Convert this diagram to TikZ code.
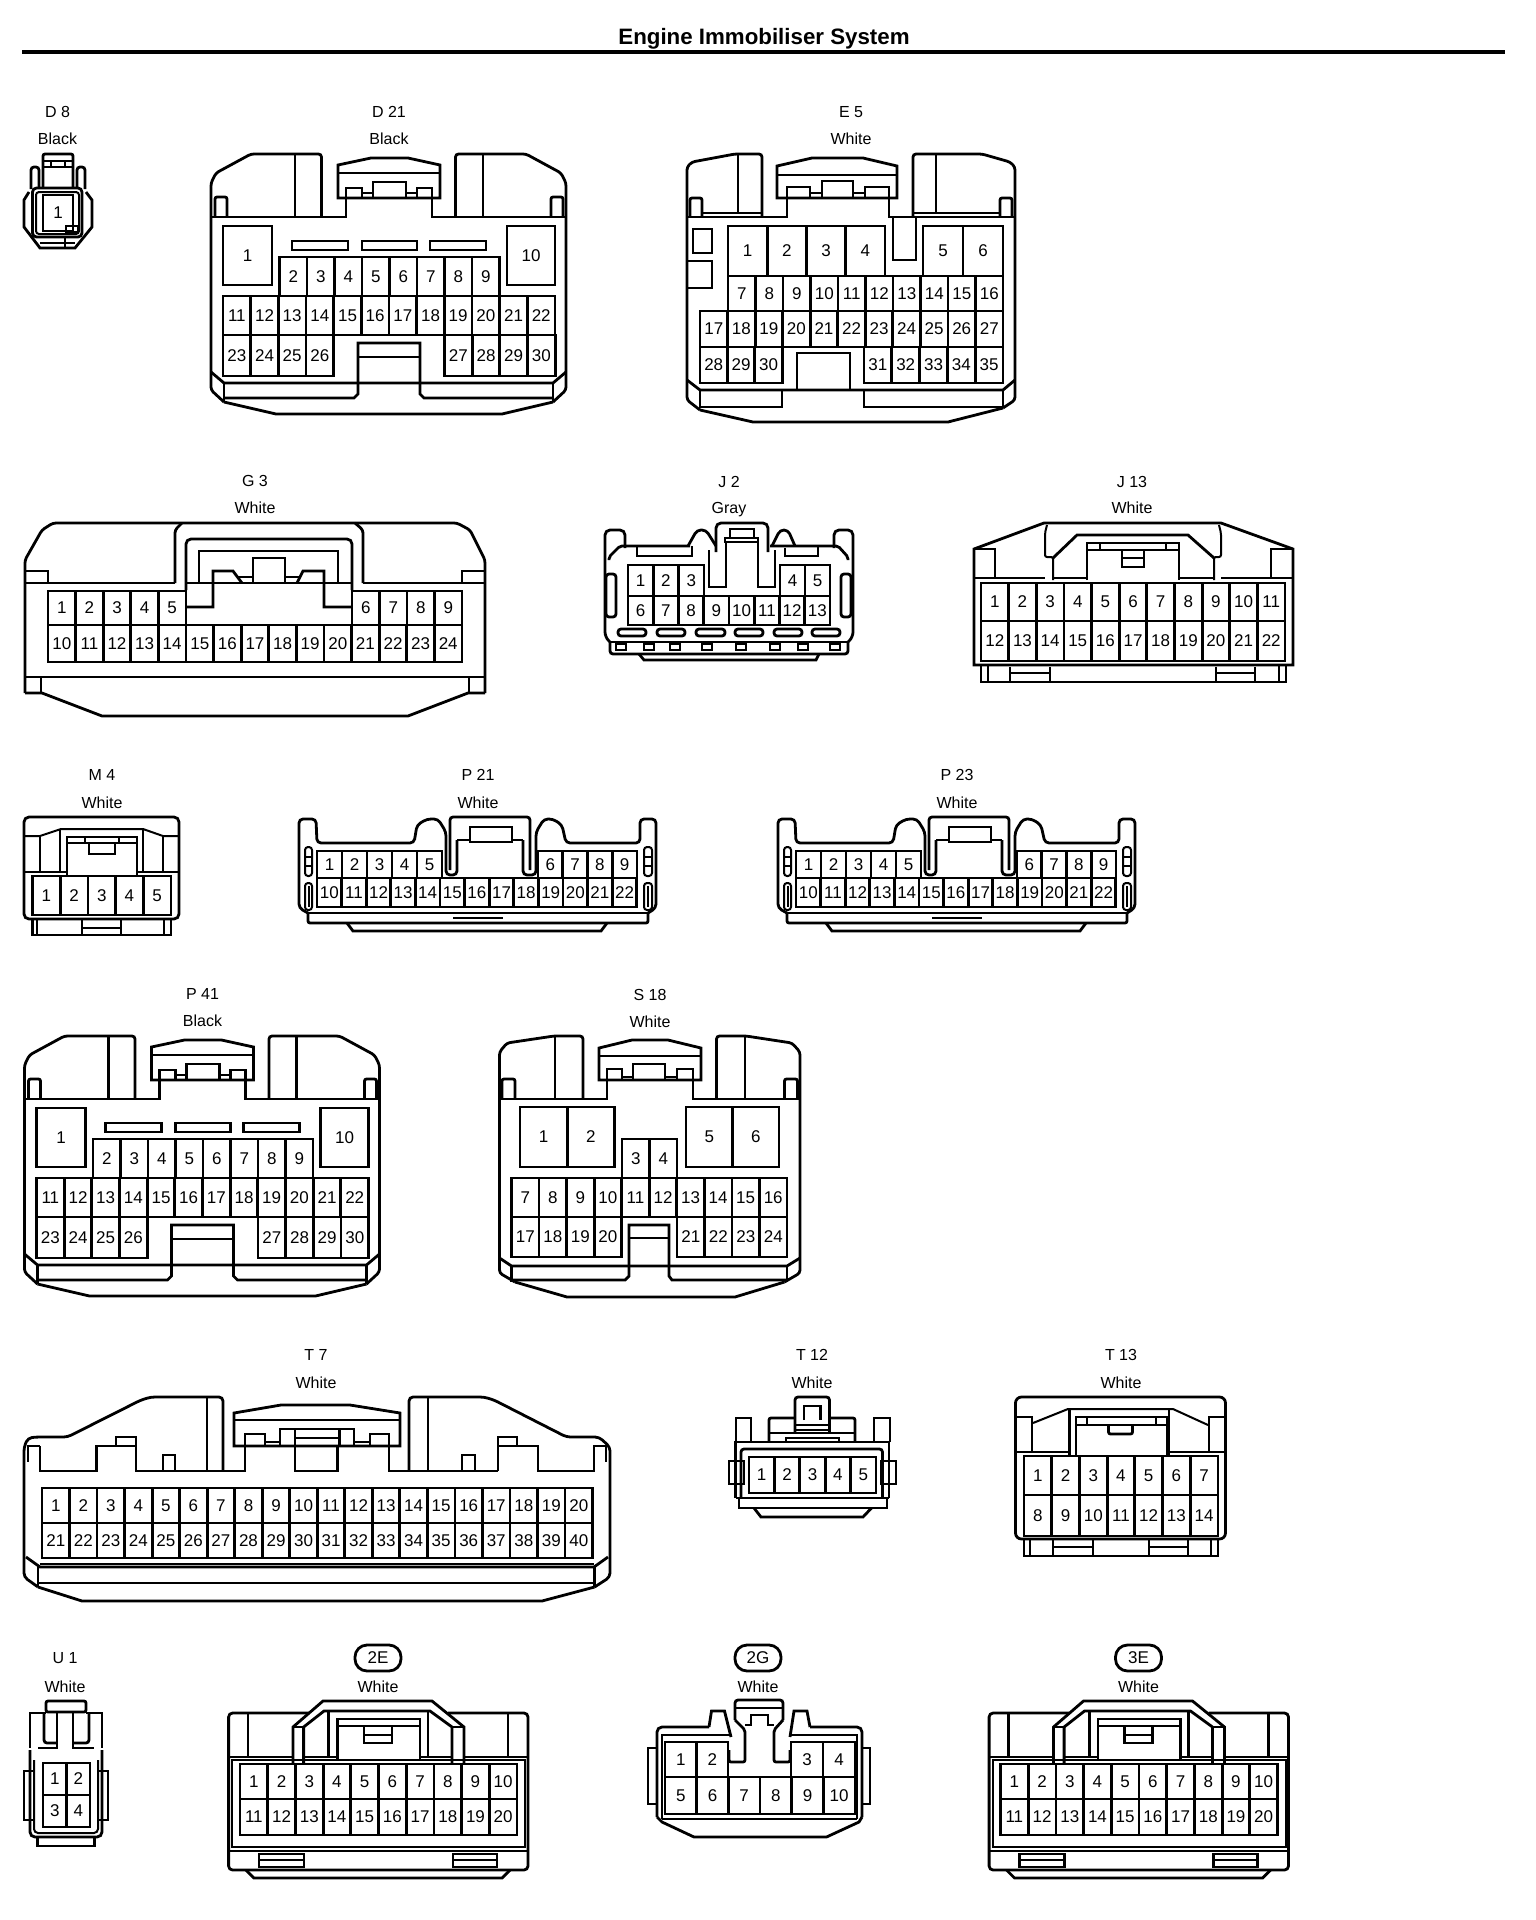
\documentclass[tikz,border=0pt]{standalone}
\usepackage{fontspec}
\setmainfont{Liberation Sans}
\tikzset{
  pincell/.style={draw,inner sep=0pt,outer sep=0pt,font=\fontsize{17}{17}\selectfont},
  conlabel/.style={inner sep=0pt,text height=11.5pt,text depth=0pt,font=\fontsize{16}{16}\selectfont},
  conpill/.style={draw,rounded corners=12pt,inner sep=0pt,minimum width=46pt,minimum height=26pt,font=\fontsize{17}{17}\selectfont},
  fine/.style={line width=2pt}
}
% name, left, top, cell width, cell height, first pin, last pin
\newcommand{\pinrow}[7]{
  \foreach \n [evaluate=\n as \cx using {#2+(\n-#6+0.5)*#4}] in {#6,...,#7} {
    \node[pincell,minimum width=#4pt,minimum height=#5pt] (#1-\n) at (\cx,#3+#5/2) {\n};
  }
}
\begin{document}
\begin{tikzpicture}[x=1pt,y=-1pt,line width=2.8pt]
\useasboundingbox (0,0) rectangle (1536,1920);

\node[inner sep=0pt,font=\fontsize{22.3}{22.3}\selectfont\bfseries] (title) at (764,39) {Engine Immobiliser System};
\draw[line width=4pt] (22,52) -- (1505,52);

% D 8
\node[conlabel] (d8-id) at (57.5,112) {D 8};
\node[conlabel] (d8-col) at (57.5,139) {Black};
\draw[rounded corners=2pt] (43,187) -- (43,154) -- (73,154) -- (73,187);
\draw[fine] (43,161) -- (73,161); \draw[fine] (43,167) -- (73,167);
\draw[fine] (51,161) -- (51,167); \draw[fine] (65,161) -- (65,167);
\draw[rounded corners=3pt] (31,189) -- (31,167) -- (39,167) -- (39,187);
\draw[rounded corners=3pt] (77,187) -- (77,167) -- (85,167) -- (85,189);
\draw (29,192) -- (24,200) -- (24,227) -- (40,248) -- (75,248) -- (92,227) -- (92,200) -- (86,192);
\draw[rounded corners=4pt] (32.5,188) rectangle (82,237);
\draw[fine,rounded corners=3pt] (36,192) rectangle (79,234);
\pinrow{d8}{43}{195}{30}{36}{1}{1}
\draw (66,232) rectangle (78,226);
\draw (40,243) -- (75,243);
\draw[fine] (65,237) -- (65,248);

% D 21 and P 41
\foreach \nm/\dx/\dy/\idt in {d21/0/0/D 21,p41/-186.5/882/P 41} {
\begin{scope}[shift={(\dx,\dy)}]
  \node[conlabel] (\nm-id) at (389,112) {\idt};
  \node[conlabel] (\nm-col) at (389,139) {Black};
  \draw[rounded corners=3pt] (224,402) -- (211,390) -- (211,183) -- (216,173) -- (251,154) -- (321.5,154) -- (321.5,217);
  \draw[rounded corners=3pt] (455.5,217) -- (455.5,154) -- (526,154) -- (561,173) -- (566,183) -- (566,390) -- (553,402);
  \draw (224,402) -- (276,414) -- (502,414) -- (553,402);
  \draw (211,217) -- (346,217) -- (346,198);
  \draw (432,198) -- (432,217) -- (566,217);
  \draw (338,198) -- (338,165) -- (371,158) -- (408,158) -- (440,165) -- (440,198) -- cycle;
  \draw (338,173) -- (440,173);
  \draw (373,198) -- (373,182) -- (406,182) -- (406,198);
  \draw (346,198) -- (346,188) -- (362,188) -- (362,198);
  \draw (417,198) -- (417,188) -- (432,188) -- (432,198);
  \draw (362,193) -- (373,193);
  \draw (406,193) -- (417,193);
  \draw (295,154) -- (295,217);
  \draw (483,154) -- (483,217);
  \draw[rounded corners=2pt] (215,217) -- (215,197) -- (227,197) -- (227,217);
  \draw[rounded corners=2pt] (551,217) -- (551,197) -- (563,197) -- (563,217);
  \draw (292,241) rectangle (348,250);
  \draw (362,241) rectangle (417,250);
  \draw (430,241) rectangle (486,250);
  \pinrow{\nm}{223}{226}{49}{59}{1}{1}
  \pinrow{\nm}{507}{226}{48}{59}{10}{10}
  \pinrow{\nm}{279.5}{257}{27.5}{39}{2}{9}
  \pinrow{\nm}{223}{296}{27.67}{39}{11}{22}
  \pinrow{\nm}{223}{335}{27.67}{41}{23}{26}
  \pinrow{\nm}{444.5}{335}{27.67}{41}{27}{30}
  \draw (211,372) -- (224,383) -- (553,383) -- (566,372);
  \draw (224,383) -- (224,402);
  \draw (553,383) -- (553,402);
  \draw (224,398) -- (354,398) -- (358,394) -- (358,343) -- (420,343) -- (420,394) -- (424,398) -- (553,398);
  \draw (358,357) -- (420,357);
\end{scope}
}

% E 5
\node[conlabel] (e5-id) at (851,112) {E 5};
\node[conlabel] (e5-col) at (851,139) {White};
\draw[rounded corners=3pt] (700,410) -- (687,400) -- (687,167) -- (692,162) -- (735,154) -- (762,154) -- (762,217);
\draw[rounded corners=3pt] (913,217) -- (913,154) -- (982,154) -- (1010,162) -- (1015,167) -- (1015,400) -- (1003,408);
\draw (700,410) -- (753,422) -- (948,422) -- (1003,408);
\draw (687,217) -- (787,217) -- (787,198);
\draw (889,198) -- (889,217) -- (1015,217);
\draw (777,198) -- (777,166) -- (812,158) -- (863,158) -- (897,166) -- (897,198) -- cycle;
\draw (777,175) -- (897,175);
\draw (822,198) -- (822,181) -- (853,181) -- (853,198);
\draw (787,198) -- (787,187) -- (810,187) -- (810,198);
\draw (865,198) -- (865,187) -- (889,187) -- (889,198);
\draw (810,193) -- (822,193);
\draw (853,193) -- (865,193);
\draw (893,217) -- (893,260) -- (916,260) -- (916,217);
\draw (738,154) -- (738,213);
\draw (936,154) -- (936,213);
\draw (702,213) -- (762,213);
\draw (913,213) -- (1000,213);
\draw[rounded corners=2pt] (690,217) -- (690,198) -- (702,198) -- (702,217);
\draw[rounded corners=2pt] (1000,217) -- (1000,198) -- (1012,198) -- (1012,217);
\draw (693,229) rectangle (712,253);
\draw (687,261) -- (712,261) -- (712,288) -- (687,288);
\pinrow{e5}{728}{226}{39.25}{50}{1}{4}
\pinrow{e5}{923}{226}{40}{50}{5}{6}
\pinrow{e5}{728}{276}{27.5}{35}{7}{16}
\pinrow{e5}{700}{311}{27.55}{36}{17}{27}
\pinrow{e5}{700}{347}{27.4}{36}{28}{30}
\pinrow{e5}{864}{347}{27.8}{36}{31}{35}
\draw (797,390) -- (797,353) -- (850,353) -- (850,390);
\draw (687,380) -- (700,390) -- (1003,390) -- (1015,380);
\draw (700,390) -- (700,407) -- (782,407) -- (782,390);
\draw (864,390) -- (864,407) -- (1003,407) -- (1003,390);

% G 3
\node[conlabel] (g3-id) at (255,481) {G 3};
\node[conlabel] (g3-col) at (255,508) {White};
\draw[rounded corners=3pt] (25,693) -- (25,560) -- (42,530) -- (53,523) -- (457,523) -- (470,530) -- (485,560) -- (485,693);
\draw (25,693) -- (42,693) -- (102,716) -- (408,716) -- (468,693) -- (485,693);
\draw (25,583) -- (175,583);
\draw (363,583) -- (485,583);
\draw (25,571) -- (48,571) -- (48,583);
\draw (485,571) -- (462,571) -- (462,583);
\draw[rounded corners=3pt] (175,583) -- (175,530) -- (182,523);
\draw[rounded corners=3pt] (363,583) -- (363,530) -- (355,523);
\draw[rounded corners=5pt] (186,590) -- (186,539) -- (352,539) -- (352,590);
\draw (199,551) rectangle (338,583);
\draw (186,583) -- (199,583);
\draw (338,583) -- (352,583);
\draw (186,607) -- (213,607) -- (213,571) -- (233,571) -- (242,583);
\draw (352,607) -- (324,607) -- (324,571) -- (303,571) -- (297,583);
\draw (253,583) -- (253,558) -- (285,558) -- (285,583);
\draw (237,577) -- (253,577);
\draw (285,577) -- (301,577);
\pinrow{g3}{48}{591}{27.6}{34}{1}{5}
\pinrow{g3}{352}{591}{27.5}{34}{6}{9}
\pinrow{g3}{48}{625}{27.6}{37}{10}{24}
\draw (25,677) -- (485,677);
\draw (41,677) -- (41,693);
\draw (469,677) -- (469,693);

% J 2
\node[conlabel] (j2-id) at (729,482) {J 2};
\node[conlabel] (j2-col) at (729,508) {Gray};
\draw[rounded corners=5pt] (611,643) -- (605,637) -- (605,530) -- (625,530) -- (625,548);
\draw[rounded corners=5pt] (834,548) -- (834,530) -- (853,530) -- (853,637) -- (847,643);
\draw[rounded corners=2pt] (609,560) -- (609,557) -- (620,546) -- (690,546);
\draw[rounded corners=2pt] (848,560) -- (848,557) -- (838,546) -- (770,546);
\draw[rounded corners=4pt] (688,546) -- (697,530) -- (706,530) -- (716,546);
\draw[rounded corners=4pt] (772,546) -- (780,530) -- (788,530) -- (795,546);
\draw[rounded corners=5pt] (716,552) -- (716,523) -- (768,523) -- (768,552);
\draw (730,538) -- (730,529) -- (754,529) -- (754,538);
\draw (725,538) rectangle (758,542);
\draw (726,542) -- (726,587) -- (709,587) -- (709,550);
\draw (758,542) -- (758,587) -- (775,587) -- (775,550);
\draw (637,546) -- (637,556) -- (692,556) -- (692,546);
\draw (785,548) -- (785,556) -- (818,556) -- (818,546);
\pinrow{j2}{628}{565}{25.3}{31}{1}{3}
\pinrow{j2}{780}{565}{25}{31}{4}{5}
\pinrow{j2}{628}{596}{25.25}{29}{6}{13}
\draw[rounded corners=3pt] (606,574) rectangle (616,617);
\draw[rounded corners=3pt] (841,574) rectangle (851,617);
\foreach \sx/\ex in {618/646,657/685,696/725,735/763,774/802,812/840} {
  \draw[rounded corners=3pt] (\sx,629) rectangle (\ex,636);
}
\draw (611,642) -- (847,642);
\draw[rounded corners=3pt] (610,642) -- (610,654) -- (848,654) -- (848,642);
\foreach \sx in {616,644,670,702,736,770,798,830} {
  \draw[fine] (\sx,644) rectangle (\sx+10,650);
}
\draw (639,654) -- (644,660) -- (816,660) -- (819,654);

% J 13
\node[conlabel] (j13-id) at (1132,482) {J 13};
\node[conlabel] (j13-col) at (1132,508) {White};
\draw (974,665) -- (974,549) -- (1044,523) -- (1221,523) -- (1293,549) -- (1293,665) -- cycle;
\draw[fine] (974,549) -- (995,549) -- (995,578);
\draw[fine] (1293,549) -- (1271,549) -- (1271,578);
\draw (974,578) -- (1045,578);
\draw (1053,578) -- (1087,578);
\draw (1179,578) -- (1214,578);
\draw (1221,578) -- (1293,578);
\draw[fine,rounded corners=2pt] (1047,525) -- (1045,533) -- (1045,557) -- (1053,557) -- (1053,580);
\draw[fine,rounded corners=2pt] (1219,525) -- (1221,533) -- (1221,557) -- (1214,557) -- (1214,580);
\draw (1053,558) -- (1077,535) -- (1188,535) -- (1214,558);
\draw (1087,580) -- (1087,543) -- (1179,543) -- (1179,580);
\draw (1087,550) -- (1179,550);
\draw[fine] (1100,543) -- (1100,550);
\draw[fine] (1166,543) -- (1166,550);
\draw (1122,550) -- (1122,567) -- (1144,567) -- (1144,550);
\draw (1122,558) -- (1144,558);
\pinrow{j13}{981}{583}{27.64}{38}{1}{11}
\pinrow{j13}{981}{621}{27.64}{40}{12}{22}
\draw (981,665) -- (981,682) -- (1286,682) -- (1286,665);
\draw[fine] (988,665) -- (988,682);
\draw[fine] (1279,665) -- (1279,682);
\draw (1010,667) -- (1010,682);
\draw (1050,667) -- (1050,682);
\draw (1010,673) -- (1050,673);
\draw (1216,667) -- (1216,682);
\draw (1255,667) -- (1255,682);
\draw (1216,673) -- (1255,673);

% M 4
\node[conlabel] (m4-id) at (102,775) {M 4};
\node[conlabel] (m4-col) at (102,803) {White};
\draw[rounded corners=5pt] (24,919) -- (24,817) -- (179,817) -- (179,919) -- cycle;
\draw[fine] (24,836) -- (40,836) -- (61,829) -- (143,829) -- (163,836) -- (179,836);
\draw[fine] (40,836) -- (40,872);
\draw[fine] (163,836) -- (163,872);
\draw[fine] (60,829) -- (60,872);
\draw[fine] (143,829) -- (143,872);
\draw[fine] (24,872) -- (67,872);
\draw[fine] (137,872) -- (179,872);
\draw (67,875) -- (67,837) -- (137,837) -- (137,875);
\draw (67,843) -- (137,843);
\draw[fine] (85,837) -- (85,843);
\draw[fine] (119,837) -- (119,843);
\draw (89,843) -- (89,854) -- (115,854) -- (115,843);
\pinrow{m4}{32.5}{876}{27.7}{39}{1}{5}
\draw (32.5,919) -- (32.5,935) -- (171,935) -- (171,919);
\draw[fine] (37,919) -- (37,935);
\draw[fine] (164,919) -- (164,935);
\draw (82,919) -- (82,935);
\draw (121,919) -- (121,935);
\draw (82,928) -- (121,928);

% P 21 and P 23
\foreach \nm/\dx/\idt in {p21/0/P 21,p23/479/P 23} {
\begin{scope}[shift={(\dx,0)}]
  \node[conlabel] (\nm-id) at (478,775) {\idt};
  \node[conlabel] (\nm-col) at (478,803) {White};
  \draw[rounded corners=4pt] (308,913) -- (299,908) -- (299,819) -- (316,819) -- (317,843) -- (414,843) -- (417,825) -- (427,819) -- (438,819) -- (446,832) -- (446,875) -- (457,875) -- (457,840);
  \draw[rounded corners=4pt] (648,913) -- (656,908) -- (656,819) -- (640,819) -- (640,843) -- (566,843) -- (562,825) -- (553,819) -- (544,819) -- (536,832) -- (536,875) -- (523,875) -- (523,840);
  \draw[rounded corners=3pt] (450,870) -- (450,817) -- (530,817) -- (530,870);
  \draw (457,840) -- (470,840);
  \draw (512,840) -- (523,840);
  \draw (470,842) -- (470,827) -- (512,827) -- (512,842) -- cycle;
  \pinrow{\nm}{317}{851}{25}{27}{1}{5}
  \pinrow{\nm}{538}{851}{24.75}{27}{6}{9}
  \pinrow{\nm}{317}{878}{24.6}{29}{10}{22}
  \draw[fine,rounded corners=3pt] (305,847) rectangle (312,876);
  \draw[fine] (305,857) -- (312,857);
  \draw[fine] (305,866) -- (312,866);
  \draw[fine,rounded corners=3pt] (305,883) rectangle (312,910);
  \draw[fine] (308.5,886) -- (308.5,907);
  \draw[fine,rounded corners=3pt] (644,847) rectangle (652,876);
  \draw[fine] (644,857) -- (652,857);
  \draw[fine] (644,866) -- (652,866);
  \draw[fine,rounded corners=3pt] (644,883) rectangle (652,910);
  \draw[fine] (648,886) -- (648,907);
  \draw (308,913) -- (648,913);
  \draw[rounded corners=2pt] (308,913) -- (308,923) -- (648,923) -- (648,913);
  \draw (453,918) -- (503,918);
  \draw (347,923) -- (353,931) -- (601,931) -- (607,923);
\end{scope}
}

% S 18
\node[conlabel] (s18-id) at (650,995) {S 18};
\node[conlabel] (s18-col) at (650,1022) {White};
\draw[rounded corners=3pt] (515,1282) -- (499.5,1273) -- (499.5,1052) -- (507,1043) -- (554,1036) -- (583,1036) -- (583,1099);
\draw[rounded corners=3pt] (716.5,1099) -- (716.5,1036) -- (746,1036) -- (792,1043) -- (800,1052) -- (800,1273) -- (784.5,1282);
\draw (515,1282) -- (567,1297) -- (735,1297) -- (784.5,1282);
\draw (499.5,1099) -- (607,1099) -- (607,1080);
\draw (693,1080) -- (693,1099) -- (800,1099);
\draw (599,1080) -- (599,1048) -- (632,1040) -- (668,1040) -- (701,1048) -- (701,1080) -- cycle;
\draw (599,1056) -- (701,1056);
\draw (633,1080) -- (633,1064) -- (665,1064) -- (665,1080);
\draw (607,1080) -- (607,1069) -- (622,1069) -- (622,1080);
\draw (677,1080) -- (677,1069) -- (693,1069) -- (693,1080);
\draw (622,1077) -- (633,1077);
\draw (665,1077) -- (677,1077);
\draw (555,1036) -- (555,1099);
\draw (745,1036) -- (745,1099);
\draw[rounded corners=2pt] (502,1099) -- (502,1079) -- (515,1079) -- (515,1099);
\draw[rounded corners=2pt] (784.5,1099) -- (784.5,1079) -- (797.5,1079) -- (797.5,1099);
\pinrow{s18}{520}{1107}{47.25}{60}{1}{2}
\pinrow{s18}{686}{1107}{46.5}{60}{5}{6}
\pinrow{s18}{622}{1139}{27.5}{39}{3}{4}
\pinrow{s18}{511.5}{1178}{27.55}{39}{7}{16}
\pinrow{s18}{511.5}{1217}{27.55}{40}{17}{20}
\pinrow{s18}{677}{1217}{27.5}{40}{21}{24}
\draw (499.5,1258) -- (511.5,1266) -- (787,1266) -- (800,1258);
\draw (511.5,1266) -- (511.5,1282);
\draw (787,1266) -- (787,1282);
\draw (511.5,1280) -- (625,1280) -- (629,1276) -- (629,1225) -- (669,1225) -- (669,1276) -- (672,1280) -- (787,1280);
\draw (629,1238) -- (669,1238);

% T 7
\node[conlabel] (t7-id) at (316,1355) {T 7};
\node[conlabel] (t7-col) at (316,1383) {White};
\draw[rounded corners=4pt] (38,1587) -- (24,1577) -- (24,1447) -- (28,1438) -- (36,1437) -- (67.5,1437) -- (141,1400) -- (151,1397) -- (223,1397) -- (223,1471);
\draw[rounded corners=4pt] (409,1471) -- (409,1397) -- (484,1397) -- (494,1400) -- (566.5,1437) -- (599,1437) -- (610,1447) -- (610,1577) -- (594.6,1587);
\draw (38,1587) -- (82,1601) -- (542,1601) -- (594.6,1587);
\draw (40,1446) -- (28,1446) -- (28,1462);
\draw (40,1446) -- (40,1471) -- (96.5,1471) -- (96.5,1446) -- (136,1446) -- (136,1471) -- (245,1471) -- (245,1446);
\draw (116,1446) -- (116,1437) -- (136,1437) -- (136,1446);
\draw (163,1471) -- (163,1455) -- (175,1455) -- (175,1471);
\draw (207,1397) -- (207,1471);
\draw (234,1446) -- (234,1413) -- (281,1405) -- (350,1405) -- (400,1413) -- (400,1446) -- cycle;
\draw (234,1420) -- (400,1420);
\draw (280,1446) -- (280,1429) -- (354,1429) -- (354,1446);
\draw (295,1429) -- (295,1471) -- (337.5,1471) -- (337.5,1446);
\draw (339.5,1429) -- (339.5,1446);
\draw (295,1438) -- (339.5,1438);
\draw (245,1446) -- (245,1434) -- (265,1434) -- (265,1446);
\draw (370,1446) -- (370,1434) -- (389,1434) -- (389,1446);
\draw (265,1442) -- (280,1442);
\draw (354,1442) -- (370,1442);
\draw (389,1446) -- (389,1471) -- (498,1471);
\draw (428,1397) -- (428,1471);
\draw (462,1471) -- (462,1455) -- (475,1455) -- (475,1471);
\draw (498,1471) -- (498,1446) -- (538,1446) -- (538,1471) -- (594,1471) -- (594,1446) -- (606,1446) -- (606,1462);
\draw (498,1446) -- (498,1437) -- (517,1437) -- (517,1446);
\pinrow{t7}{42}{1488}{27.53}{35}{1}{20}
\pinrow{t7}{42}{1523}{27.53}{35}{21}{40}
\draw (26,1557) -- (40,1567) -- (594,1567) -- (608,1557);
\draw[fine] (40,1563.5) -- (594,1563.5);
\draw (38,1567) -- (38,1587);
\draw (594.6,1567) -- (594.6,1587);
\draw (38,1583) -- (594.6,1583);

% T 12
\node[conlabel] (t12-id) at (812,1355) {T 12};
\node[conlabel] (t12-col) at (812,1383) {White};
\draw[rounded corners=3pt] (795,1432) -- (795,1397) -- (829.5,1397) -- (829.5,1432);
\draw (804,1420) -- (804,1406) -- (820.5,1406) -- (820.5,1420);
\draw (796,1425) -- (829,1425);
\draw[fine] (796,1430) -- (829,1430);
\draw[rounded corners=2pt] (769,1442) -- (769,1418) -- (795,1418);
\draw[rounded corners=2pt] (855,1442) -- (855,1418) -- (829,1418);
\draw[fine] (769,1433) -- (855,1433);
\draw (786,1442) -- (786,1438) -- (839,1438) -- (839,1442);
\draw (736,1442) -- (736,1418) -- (751,1418) -- (751,1442);
\draw (874,1442) -- (874,1418) -- (890,1418) -- (890,1442);
\draw (735.5,1498) -- (735.5,1442) -- (889,1442) -- (889,1498);
\draw[rounded corners=3pt] (741,1498) -- (741,1449) -- (882.5,1449) -- (882.5,1498);
\pinrow{t12}{749}{1457}{25.4}{36}{1}{5}
\draw (729,1461) rectangle (744,1484);
\draw (881,1461) rectangle (896,1484);
\draw (735.5,1498) -- (889,1498);
\draw (739,1498) -- (739,1508) -- (887,1508) -- (887,1498);
\draw (754,1508) -- (761,1517) -- (863,1517) -- (871.5,1508);

% T 13
\node[conlabel] (t13-id) at (1121,1355) {T 13};
\node[conlabel] (t13-col) at (1121,1383) {White};
\draw[rounded corners=6pt] (1015.5,1539) -- (1015.5,1397) -- (1225.5,1397) -- (1225.5,1539) -- cycle;
\draw (1015.5,1417) -- (1032,1417) -- (1032,1452);
\draw (1225.5,1417) -- (1209,1417) -- (1209,1452);
\draw[fine] (1033,1423) -- (1068,1409) -- (1173,1409) -- (1208,1425);
\draw (1015.5,1452) -- (1069.5,1452);
\draw (1169,1452) -- (1225.5,1452);
\draw (1069.5,1409) -- (1069.5,1455);
\draw (1169,1409) -- (1169,1455);
\draw (1076,1455) -- (1076,1417) -- (1167,1417) -- (1167,1455);
\draw (1076,1425) -- (1167,1425);
\draw[fine] (1087,1417) -- (1087,1425);
\draw[fine] (1155.6,1417) -- (1155.6,1425);
\draw[rounded corners=2pt] (1108.5,1425) -- (1108.5,1434) -- (1132.5,1434) -- (1132.5,1425);
\pinrow{t13}{1024}{1456}{27.7}{39}{1}{7}
\pinrow{t13}{1024}{1495}{27.7}{41}{8}{14}
\draw (1024,1539) -- (1024,1556) -- (1218,1556) -- (1218,1539);
\draw[fine] (1030,1539) -- (1030,1556);
\draw[fine] (1211,1539) -- (1211,1556);
\draw (1053,1539) -- (1053,1556);
\draw (1093,1539) -- (1093,1556);
\draw (1053,1547) -- (1093,1547);
\draw (1149,1539) -- (1149,1556);
\draw (1188,1539) -- (1188,1556);
\draw (1149,1547) -- (1188,1547);

% U 1
\node[conlabel] (u1-id) at (65,1658) {U 1};
\node[conlabel] (u1-col) at (65,1687) {White};
\draw[rounded corners=2pt] (46,1701) rectangle (86,1712);
\draw (46,1713) -- (30,1713) -- (30,1748);
\draw (86,1713) -- (102,1713) -- (102,1748);
\draw[rounded corners=3pt] (44,1713) -- (44,1743) -- (57,1743);
\draw (57,1713) -- (57,1748) -- (38,1748);
\draw[rounded corners=3pt] (89,1713) -- (89,1743) -- (73,1743);
\draw (73,1713) -- (73,1748) -- (94,1748);
\draw[rounded corners=5pt] (30,1750) -- (30,1837) -- (102,1837) -- (102,1750);
\draw[fine,rounded corners=4pt] (34,1760) -- (34,1833) -- (98,1833) -- (98,1760);
\pinrow{u1}{43}{1763}{23.5}{32}{1}{2}
\pinrow{u1}{43}{1795}{23.5}{32}{3}{4}
\draw (34,1771) -- (24,1771) -- (24,1820) -- (34,1820);
\draw (98,1771) -- (108,1771) -- (108,1820) -- (98,1820);
\draw (37.5,1837) -- (37.5,1846) -- (94.6,1846) -- (94.6,1837);

% 2E and 3E
\foreach \nm/\dx/\idt in {2e/0/2E,3e/760.5/3E} {
\begin{scope}[shift={(\dx,0)}]
  \node[conpill] (\nm-id) at (378,1658) {\idt};
  \node[conlabel] (\nm-col) at (378,1687) {White};
  \draw[rounded corners=4pt] (309,1713) -- (228.6,1713) -- (228.6,1870) -- (528,1870) -- (528,1713) -- (448,1713);
  \draw (293,1763) -- (293,1727) -- (323,1701) -- (432,1701) -- (464,1727) -- (464,1763);
  \draw (303.6,1763) -- (303.6,1727) -- (324,1711) -- (430,1711) -- (452,1727) -- (452,1763);
  \draw (293,1727) -- (303.6,1727);
  \draw (452,1727) -- (464,1727);
  \draw (248,1713) -- (248,1757);
  \draw (508,1713) -- (508,1757);
  \draw (328.6,1711) -- (328.6,1757);
  \draw (428,1711) -- (428,1757);
  \draw (228.6,1757) -- (293,1757);
  \draw (303.6,1757) -- (337.5,1757);
  \draw (420,1757) -- (452,1757);
  \draw (464,1757) -- (528,1757);
  \draw (337.5,1760) -- (337.5,1719) -- (420,1719) -- (420,1760);
  \draw (337.5,1726) -- (420,1726);
  \draw (364,1726) -- (364,1743) -- (392,1743) -- (392,1726);
  \draw (364,1735) -- (392,1735);
  \draw[fine] (232,1847) -- (232,1760) -- (525,1760) -- (525,1847) -- cycle;
  \pinrow{\nm}{240}{1764}{27.7}{35}{1}{10}
  \pinrow{\nm}{240}{1799}{27.7}{36}{11}{20}
  \draw (228.6,1851) -- (528,1851);
  \draw (259,1854) rectangle (304,1867);
  \draw[fine] (259,1860) -- (304,1860);
  \draw (453,1854) rectangle (497,1867);
  \draw[fine] (453,1860) -- (497,1860);
  \draw (246,1870) -- (254,1878) -- (502,1878) -- (510,1870);
\end{scope}
}

% 2G
\node[conpill] (2g-id) at (758,1658) {2G};
\node[conlabel] (2g-col) at (758,1687) {White};
\draw[rounded corners=5pt] (657,1817) -- (657,1727) -- (709,1727);
\draw[rounded corners=5pt] (862,1817) -- (862,1727) -- (810,1727);
\draw (657,1817) -- (662,1822) -- (694,1837) -- (826.5,1837) -- (859,1822) -- (862,1817);
\draw[fine] (662,1819) -- (662,1735) -- (729,1735);
\draw[fine] (857,1819) -- (857,1735) -- (791,1735);
\draw[fine] (662,1819) -- (857,1819);
\draw (709,1727) -- (711.5,1711) -- (724.5,1711) -- (731,1737);
\draw (810,1727) -- (807,1711) -- (794,1711) -- (790,1737);
\draw[rounded corners=3pt] (735,1720) -- (735,1700) -- (783,1700) -- (783,1720);
\draw (735,1708) -- (783,1708);
\draw[rounded corners=2pt] (735,1720) -- (745,1730) -- (745,1762) -- (729,1762) -- (729,1750);
\draw[rounded corners=2pt] (783,1720) -- (774,1730) -- (774,1762) -- (790,1762) -- (790,1750);
\draw (745,1725) -- (751,1725) -- (751,1715) -- (768,1715) -- (768,1725) -- (774,1725);
\pinrow{2g}{665}{1742}{31.5}{35}{1}{2}
\pinrow{2g}{791}{1742}{32}{35}{3}{4}
\pinrow{2g}{665}{1777}{31.67}{37}{5}{10}
\draw (657,1748) -- (648,1748) -- (648,1804) -- (657,1804);
\draw (862,1748) -- (870,1748) -- (870,1804) -- (862,1804);
\end{tikzpicture}
\end{document}
